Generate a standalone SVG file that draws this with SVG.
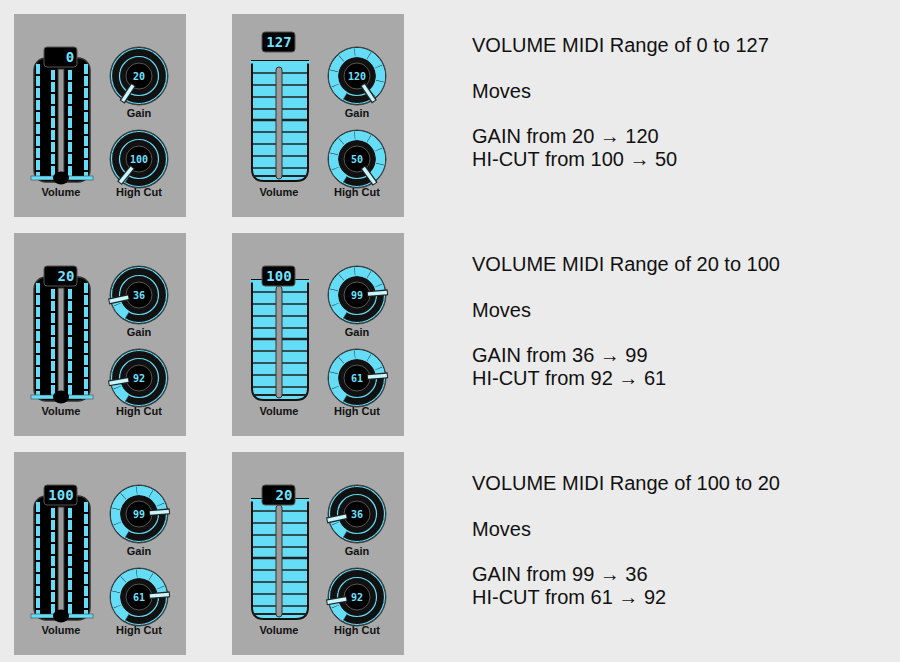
<svg xmlns="http://www.w3.org/2000/svg" xmlns:xlink="http://www.w3.org/1999/xlink" width="900" height="662" viewBox="0 0 900 662">
<style>
.panel{fill:#a9a9a9}
.lbl{font-family:"Liberation Sans",Arial,sans-serif;font-weight:bold;font-size:11px;fill:#111;text-anchor:middle}
.txt{font-family:"Liberation Sans",Arial,sans-serif;font-size:20px;fill:#111}
.disp{font-family:"DejaVu Sans Mono","Liberation Mono",monospace;font-weight:bold;fill:#6fe3ff;text-anchor:middle}
.cy{fill:#66ddf7}
.band{fill:none;stroke:#66ddf7;stroke-width:9}
</style>
<defs>
<g id="fEmpty">
<rect x="20" y="44" width="56" height="124" rx="12" fill="#000" stroke="#333" stroke-width="1.5"/>
<g fill="none" stroke="#66ddf7" stroke-width="4" stroke-dasharray="10 2">
<line x1="24" y1="50" x2="24" y2="162"/><line x1="39" y1="56" x2="39" y2="162"/>
<line x1="56" y1="56" x2="56" y2="162"/><line x1="72" y1="50" x2="72" y2="162"/>
</g>
<rect x="44" y="55" width="6" height="110" fill="#9a9a9a" stroke="#333" stroke-width="1"/>
<rect x="17" y="162" width="62" height="4" fill="#66ddf7" stroke="#333" stroke-width="0.5"/>
<ellipse cx="47" cy="164" rx="8" ry="6.5" fill="#000"/>
</g>
<g id="fFull">
<path d="M20 47 H76 V155 Q76 167 64 167 H32 Q20 167 20 155 Z" fill="#66ddf7" stroke="#111" stroke-width="2"/>
<g stroke="#222" stroke-width="1.3">
<line x1="21" y1="59" x2="75" y2="59"/><line x1="21" y1="71" x2="75" y2="71"/><line x1="21" y1="83" x2="75" y2="83"/><line x1="21" y1="95" x2="75" y2="95"/>
<line x1="21" y1="106" x2="75" y2="106" stroke-width="2.5"/>
<line x1="21" y1="118" x2="75" y2="118"/><line x1="21" y1="130" x2="75" y2="130"/><line x1="21" y1="142" x2="75" y2="142"/><line x1="21" y1="154" x2="75" y2="154"/>
<line x1="21" y1="162" x2="75" y2="162" stroke-width="2"/>
</g>
<rect x="44" y="53" width="6" height="112" rx="3" fill="#9a9a9a" stroke="#333" stroke-width="1"/>
<rect x="18" y="47" width="60" height="2.5" fill="#66ddf7"/>
</g>
<g id="kBase">
<circle r="29" fill="#111" stroke="#444" stroke-width="1"/>
<circle r="27.5" fill="none" stroke="#66ddf7" stroke-width="1.2"/>
<circle r="19.5" fill="none" stroke="#66ddf7" stroke-width="1.2"/>
</g>
<g id="kTop">
<circle r="23.5" fill="none" stroke="#1a1a1a" stroke-width="8" pathLength="360" stroke-dasharray="1 35" transform="rotate(-240)"/>
<circle r="13" fill="#000" stroke="#555" stroke-width="1"/>
</g>
<g id="ptr">
<line x1="0" y1="-10" x2="0" y2="-31" stroke="#222" stroke-width="6"/>
<line x1="0" y1="-11" x2="0" y2="-30" stroke="#c8f6ff" stroke-width="3.5"/>
</g>
</defs>
<rect width="900" height="662" fill="#ebebeb"/>

<g id="p1" transform="translate(14,14)">
<rect class="panel" width="172" height="203"/>
<use xlink:href="#fEmpty"/>
<rect x="30" y="33" width="33" height="20" rx="3" fill="#000" stroke="#555"/>
<text class="disp" x="56" y="48" font-size="14">0</text>
<g transform="translate(125,62)"><use xlink:href="#kBase"/><circle class="band" r="23.5" pathLength="360" stroke-dasharray="3 360" transform="rotate(-240)"/><use xlink:href="#kTop"/><use xlink:href="#ptr" transform="rotate(-147)"/><text class="disp" y="4" font-size="10">20</text></g>
<g transform="translate(125,145)"><use xlink:href="#kBase"/><circle class="band" r="23.5" pathLength="360" stroke-dasharray="9 360" transform="rotate(-240)"/><use xlink:href="#kTop"/><use xlink:href="#ptr" transform="rotate(-141)"/><text class="disp" y="4" font-size="10">100</text></g>
<text class="lbl" x="47" y="182">Volume</text><text class="lbl" x="125" y="103">Gain</text><text class="lbl" x="125" y="182">High Cut</text>
</g>

<g id="p2" transform="translate(232,14)">
<rect class="panel" width="172" height="203"/>
<use xlink:href="#fFull"/>
<rect x="30" y="18" width="33" height="20" rx="3" fill="#000" stroke="#555"/>
<text class="disp" x="47" y="33" font-size="14">127</text>
<g transform="translate(125,62)"><use xlink:href="#kBase"/><circle class="band" r="23.5" pathLength="360" stroke-dasharray="296 360" transform="rotate(-240)"/><use xlink:href="#kTop"/><use xlink:href="#ptr" transform="rotate(146)"/><text class="disp" y="4" font-size="10">120</text></g>
<g transform="translate(125,145)"><use xlink:href="#kBase"/><circle class="band" r="23.5" pathLength="360" stroke-dasharray="294 360" transform="rotate(-240)"/><use xlink:href="#kTop"/><use xlink:href="#ptr" transform="rotate(144)"/><text class="disp" y="4" font-size="10">50</text></g>
<text class="lbl" x="47" y="182">Volume</text><text class="lbl" x="125" y="103">Gain</text><text class="lbl" x="125" y="182">High Cut</text>
</g>

<g id="p3" transform="translate(14,233)">
<rect class="panel" width="172" height="203"/>
<use xlink:href="#fEmpty"/>
<rect x="30" y="33" width="33" height="20" rx="3" fill="#000" stroke="#555"/>
<text class="disp" x="52" y="48" font-size="14">20</text>
<g transform="translate(125,62)"><use xlink:href="#kBase"/><circle class="band" r="23.5" pathLength="360" stroke-dasharray="48 360" transform="rotate(-240)"/><use xlink:href="#kTop"/><use xlink:href="#ptr" transform="rotate(-102)"/><text class="disp" y="4" font-size="10">36</text></g>
<g transform="translate(125,145)"><use xlink:href="#kBase"/><circle class="band" r="23.5" pathLength="360" stroke-dasharray="50 360" transform="rotate(-240)"/><use xlink:href="#kTop"/><use xlink:href="#ptr" transform="rotate(-100)"/><text class="disp" y="4" font-size="10">92</text></g>
<text class="lbl" x="47" y="182">Volume</text><text class="lbl" x="125" y="103">Gain</text><text class="lbl" x="125" y="182">High Cut</text>
</g>

<g id="p4" transform="translate(232,233)">
<rect class="panel" width="172" height="203"/>
<use xlink:href="#fFull"/>
<rect x="30" y="33" width="33" height="20" rx="3" fill="#000" stroke="#555"/>
<text class="disp" x="47" y="48" font-size="14">100</text>
<g transform="translate(125,62)"><use xlink:href="#kBase"/><circle class="band" r="23.5" pathLength="360" stroke-dasharray="235 360" transform="rotate(-240)"/><use xlink:href="#kTop"/><use xlink:href="#ptr" transform="rotate(85)"/><text class="disp" y="4" font-size="10">99</text></g>
<g transform="translate(125,145)"><use xlink:href="#kBase"/><circle class="band" r="23.5" pathLength="360" stroke-dasharray="235 360" transform="rotate(-240)"/><use xlink:href="#kTop"/><use xlink:href="#ptr" transform="rotate(85)"/><text class="disp" y="4" font-size="10">61</text></g>
<text class="lbl" x="47" y="182">Volume</text><text class="lbl" x="125" y="103">Gain</text><text class="lbl" x="125" y="182">High Cut</text>
</g>

<g id="p5" transform="translate(14,452)">
<rect class="panel" width="172" height="203"/>
<use xlink:href="#fEmpty"/>
<rect x="30" y="33" width="33" height="20" rx="3" fill="#000" stroke="#555"/>
<text class="disp" x="47" y="48" font-size="14">100</text>
<g transform="translate(125,62)"><use xlink:href="#kBase"/><circle class="band" r="23.5" pathLength="360" stroke-dasharray="235 360" transform="rotate(-240)"/><use xlink:href="#kTop"/><use xlink:href="#ptr" transform="rotate(85)"/><text class="disp" y="4" font-size="10">99</text></g>
<g transform="translate(125,145)"><use xlink:href="#kBase"/><circle class="band" r="23.5" pathLength="360" stroke-dasharray="235 360" transform="rotate(-240)"/><use xlink:href="#kTop"/><use xlink:href="#ptr" transform="rotate(85)"/><text class="disp" y="4" font-size="10">61</text></g>
<text class="lbl" x="47" y="182">Volume</text><text class="lbl" x="125" y="103">Gain</text><text class="lbl" x="125" y="182">High Cut</text>
</g>

<g id="p6" transform="translate(232,452)">
<rect class="panel" width="172" height="203"/>
<use xlink:href="#fFull"/>
<rect x="30" y="33" width="33" height="20" rx="3" fill="#000" stroke="#555"/>
<text class="disp" x="52" y="48" font-size="14">20</text>
<g transform="translate(125,62)"><use xlink:href="#kBase"/><circle class="band" r="23.5" pathLength="360" stroke-dasharray="48 360" transform="rotate(-240)"/><use xlink:href="#kTop"/><use xlink:href="#ptr" transform="rotate(-102)"/><text class="disp" y="4" font-size="10">36</text></g>
<g transform="translate(125,145)"><use xlink:href="#kBase"/><circle class="band" r="23.5" pathLength="360" stroke-dasharray="50 360" transform="rotate(-240)"/><use xlink:href="#kTop"/><use xlink:href="#ptr" transform="rotate(-100)"/><text class="disp" y="4" font-size="10">92</text></g>
<text class="lbl" x="47" y="182">Volume</text><text class="lbl" x="125" y="103">Gain</text><text class="lbl" x="125" y="182">High Cut</text>
</g>

<g id="desc1">
<text class="txt" x="472" y="52">VOLUME MIDI Range of 0 to 127</text>
<text class="txt" x="472" y="98">Moves</text>
<text class="txt" x="472" y="143">GAIN from 20 → 120</text>
<text class="txt" x="472" y="166">HI-CUT from 100 → 50</text>
</g>
<g id="desc2">
<text class="txt" x="472" y="271">VOLUME MIDI Range of 20 to 100</text>
<text class="txt" x="472" y="317">Moves</text>
<text class="txt" x="472" y="362">GAIN from 36 → 99</text>
<text class="txt" x="472" y="385">HI-CUT from 92 → 61</text>
</g>
<g id="desc3">
<text class="txt" x="472" y="490">VOLUME MIDI Range of 100 to 20</text>
<text class="txt" x="472" y="536">Moves</text>
<text class="txt" x="472" y="581">GAIN from 99 → 36</text>
<text class="txt" x="472" y="604">HI-CUT from 61 → 92</text>
</g>
</svg>
